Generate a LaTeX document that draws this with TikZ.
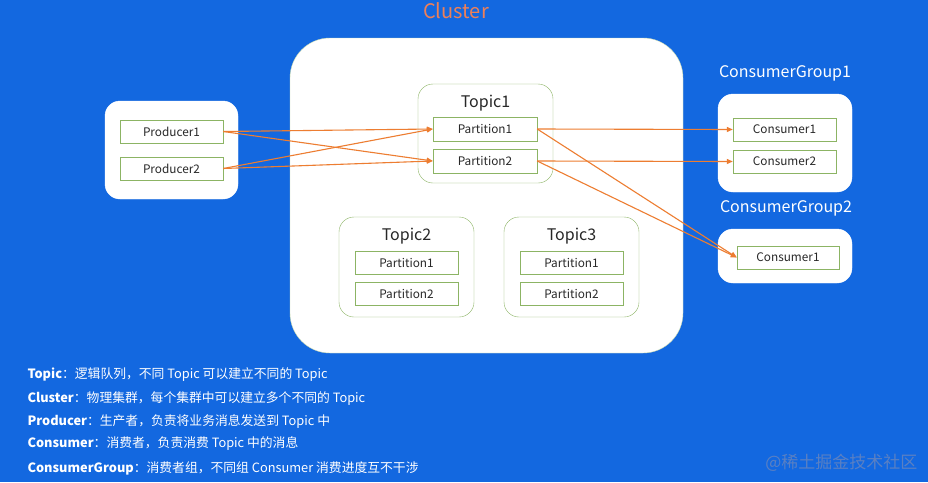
\documentclass[tikz,border=0pt]{standalone}
\usepackage{fontspec}
\setmainfont{Noto Sans CJK SC}
\usetikzlibrary{arrows.meta}

\definecolor{bgblue}{RGB}{19,104,224}
\definecolor{arrowcol}{RGB}{237,125,49}
\definecolor{titlecol}{RGB}{238,128,88}
\definecolor{edgegreen}{RGB}{140,180,100}
\definecolor{textgray}{RGB}{40,40,40}
\definecolor{markcol}{RGB}{90,128,195}

\tikzset{
    group/.style={fill=white, draw=white, rounded corners=15pt},
    topicbox/.style={fill=white, draw=edgegreen, rounded corners=15pt},
    item/.style={draw=edgegreen, fill=white, text=textgray, inner sep=0pt,
        font=\fontsize{11.8}{13}\selectfont},
    label/.style={text=white, font=\fontsize{16}{18}\selectfont},
    flow/.style={arrowcol, line width=1.1pt, -{Triangle[length=6pt,width=5pt]}},
    note/.style={text=white, anchor=west, font=\fontsize{12.8}{14}\selectfont}
}

\begin{document}
\begin{tikzpicture}[x=1pt, y=-1pt]
    \fill[bgblue] (0,0) rectangle (928,482);
    \useasboundingbox (0,0) rectangle (928,482);

    % cluster
    \node[fill=white, draw=edgegreen!50, rounded corners=40pt, minimum width=393pt,
        minimum height=315pt] (cluster) at (486.5,195.5) {};
    \node[text=titlecol, font=\fontsize{20}{22}\selectfont] (clustertitle) at (456,11) {Cluster};

    \node[topicbox, minimum width=135pt, minimum height=99pt] (topic1) at (485.5,133.5) {};
    \node[textgray, font=\fontsize{16}{18}\selectfont] (topic1lbl) at (485.5,103) {Topic1};
    \node[item, minimum width=104pt, minimum height=24pt] (t1p1) at (485,129) {Partition1};
    \node[item, minimum width=104pt, minimum height=24pt] (t1p2) at (485,161) {Partition2};

    \foreach \n/\x in {2/406.5, 3/571.5} {
        \node[topicbox, minimum width=135pt, minimum height=100pt] (topic\n) at (\x,267) {};
        \node[textgray, font=\fontsize{16}{18}\selectfont] (topic\n lbl) at (\x,236) {Topic\n};
        \node[item, minimum width=103pt, minimum height=23pt] (t\n p1) at (\x,262.5) {Partition1};
        \node[item, minimum width=103pt, minimum height=23pt] (t\n p2) at (\x,294) {Partition2};
    }

    % producers
    \node[group, minimum width=133pt, minimum height=98pt] (producers) at (171.5,150) {};
    \node[item, minimum width=103pt, minimum height=23pt] (prod1) at (171.5,131.5) {Producer1};
    \node[item, minimum width=103pt, minimum height=23pt] (prod2) at (171.5,168.5) {Producer2};

    % consumer groups
    \node[label] (cg1lbl) at (785,73) {ConsumerGroup1};
    \node[group, minimum width=134pt, minimum height=98pt] (cg1) at (785,143) {};
    \node[item, minimum width=103pt, minimum height=23pt] (cg1c1) at (784.5,129.5) {Consumer1};
    \node[item, minimum width=103pt, minimum height=23pt] (cg1c2) at (784.5,161.5) {Consumer2};

    \node[label] (cg2lbl) at (786,208) {ConsumerGroup2};
    \node[group, minimum width=134pt, minimum height=54pt] (cg2) at (785,256) {};
    \node[item, minimum width=102pt, minimum height=23pt] (cg2c1) at (788,257.5) {Consumer1};

    % arrows
    \draw[flow] (prod1.east) -- (t1p1.west);
    \draw[flow] (prod1.east) -- (t1p2.west);
    \draw[flow] (prod2.east) -- (t1p1.west);
    \draw[flow] (prod2.east) -- (t1p2.west);
    \draw[flow] (t1p1.east) -- (cg1c1.west);
    \draw[flow] (t1p2.east) -- (cg1c2.west);
    \draw[flow] (t1p1.east) -- (cg2c1.west);
    \draw[flow] (t1p2.east) -- (cg2c1.west);

    % legend
    \node[note] (n1) at (24,375) {\textbf{Topic}：逻辑队列，不同 Topic 可以建立不同的 Topic};
    \node[note] (n2) at (24,399) {\textbf{Cluster}：物理集群，每个集群中可以建立多个不同的 Topic};
    \node[note] (n3) at (24,422) {\textbf{Producer}：生产者，负责将业务消息发送到 Topic 中};
    \node[note] (n4) at (24,444) {\textbf{Consumer}：消费者，负责消费 Topic 中的消息};
    \node[note] (n5) at (24,468) {\textbf{ConsumerGroup}：消费者组，不同组 Consumer 消费进度互不干涉};

    \node[text=markcol, anchor=east, font=\fontsize{17}{19}\selectfont] (mark) at (921,463) {@稀土掘金技术社区};
\end{tikzpicture}
\end{document}
